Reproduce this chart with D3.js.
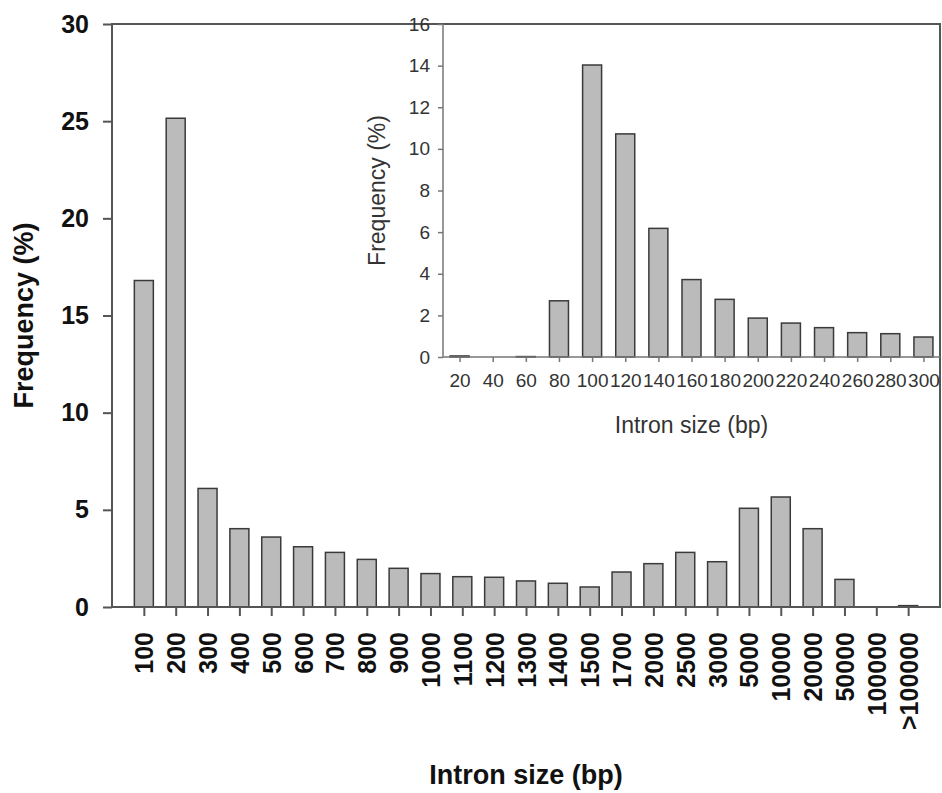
<!DOCTYPE html>
<html>
<head>
<meta charset="utf-8">
<script src="https://cdn.jsdelivr.net/npm/d3@7/dist/d3.min.js"></script>
<style>
  body { margin: 0; background: #fff; }
  svg { display: block; font-family: Arial, "Liberation Sans", sans-serif; }
  .bar { fill: #bbbbbb; stroke: #3a3a3a; stroke-width: 1.5; }
  .main-axis text { font-size: 25px; font-weight: bold; fill: #111; }
  .main-axis line { stroke: #555; stroke-width: 2; }
  .inset-axis text { font-size: 19px; fill: #333; }
  .inset-axis line { stroke: #777; stroke-width: 1.5; }
</style>
</head>
<body>
<svg id="chart" width="942" height="793"></svg>
<script>
// main histogram
var mainCategories = ["100", "200", "300", "400", "500", "600", "700", "800", "900",
    "1000", "1100", "1200", "1300", "1400", "1500", "1700", "2000", "2500", "3000",
    "5000", "10000", "20000", "50000", "100000", ">100000"];
var mainValues = [16.8, 25.15, 6.1, 4.03, 3.6, 3.1, 2.81, 2.45, 1.99,
    1.72, 1.56, 1.53, 1.34, 1.22, 1.03, 1.8, 2.23, 2.81, 2.33,
    5.08, 5.66, 4.03, 1.42, 0, 0.07];
var mainYTicks = [0, 5, 10, 15, 20, 25, 30];

// inset histogram (short introns)
var insetCategories = ["20", "40", "60", "80", "100", "120", "140", "160", "180",
    "200", "220", "240", "260", "280", "300"];
var insetValues = [0.05, 0, 0.02, 2.7, 14.03, 10.72, 6.18, 3.72, 2.77,
    1.87, 1.63, 1.41, 1.17, 1.12, 0.96];
var insetYTicks = [0, 2, 4, 6, 8, 10, 12, 14, 16];

var barWidth = 19;
var svg = d3.select("#chart");

var main = {left: 112, right: 940, top: 24, bottom: 607};
var inset = {left: 443, right: 940, top: 24, bottom: 357};

var xMain = d3.scalePoint()
    .domain(mainCategories)
    .range([main.left, main.right])
    .padding(1);
var yMain = d3.scaleLinear()
    .domain([0, 30])
    .range([main.bottom, main.top]);

var xInset = d3.scalePoint()
    .domain(insetCategories)
    .range([inset.left, inset.right])
    .padding(0.5);
var yInset = d3.scaleLinear()
    .domain([0, 16])
    .range([inset.bottom, inset.top]);

// --- main chart ---
svg.append("g")
    .selectAll("rect")
    .data(mainCategories)
    .enter().append("rect")
        .attr("class", "bar")
        .attr("x", function(d) { return xMain(d) - barWidth / 2; })
        .attr("width", barWidth)
        .attr("y", function(d, i) { return yMain(mainValues[i]); })
        .attr("height", function(d, i) { return yMain(0) - yMain(mainValues[i]); });

svg.append("g")
    .attr("class", "main-axis")
    .attr("transform", `translate(${main.left}, 0)`)
    .call(d3.axisLeft(yMain).tickValues(mainYTicks).tickSize(9).tickSizeOuter(0).tickPadding(14))
    .call(function(g) { g.select(".domain").remove(); });

svg.append("g")
    .attr("class", "main-axis")
    .attr("transform", `translate(0, ${main.bottom})`)
    .call(d3.axisBottom(xMain).tickSize(9).tickSizeOuter(0))
    .call(function(g) {
      g.select(".domain").remove();
      g.selectAll("text")
          .attr("transform", "rotate(-90)")
          .attr("x", -25)
          .attr("y", 0)
          .attr("dy", "0.36em")
          .style("text-anchor", "end");
    });

svg.append("rect")
    .attr("x", main.left)
    .attr("y", main.top)
    .attr("width", main.right - main.left)
    .attr("height", main.bottom - main.top)
    .attr("fill", "none")
    .attr("stroke", "#555")
    .attr("stroke-width", 2);

svg.append("text")
    .attr("transform", `translate(33, ${(main.top + main.bottom) / 2}) rotate(-90)`)
    .style("text-anchor", "middle")
    .style("font-size", "27px")
    .style("font-weight", "bold")
    .attr("fill", "#111")
    .text("Frequency (%)");

svg.append("text")
    .attr("x", (main.left + main.right) / 2)
    .attr("y", 784)
    .style("text-anchor", "middle")
    .style("font-size", "27px")
    .style("font-weight", "bold")
    .attr("fill", "#111")
    .text("Intron size (bp)");

// --- inset ---
svg.append("rect")
    .attr("x", inset.left)
    .attr("y", inset.top + 1)
    .attr("width", inset.right - inset.left - 1)
    .attr("height", inset.bottom - inset.top - 1)
    .attr("fill", "#fff");

svg.append("g")
    .selectAll("rect")
    .data(insetCategories)
    .enter().append("rect")
        .attr("class", "bar")
        .attr("x", function(d) { return xInset(d) - barWidth / 2; })
        .attr("width", barWidth)
        .attr("y", function(d, i) { return yInset(insetValues[i]); })
        .attr("height", function(d, i) { return yInset(0) - yInset(insetValues[i]); });

svg.append("g")
    .attr("class", "inset-axis")
    .attr("transform", `translate(${inset.left}, 0)`)
    .call(d3.axisLeft(yInset).tickValues(insetYTicks).tickSize(5).tickSizeOuter(0).tickPadding(8))
    .call(function(g) { g.select(".domain").remove(); });

svg.append("g")
    .attr("class", "inset-axis")
    .attr("transform", `translate(0, ${inset.bottom})`)
    .call(d3.axisBottom(xInset).tickSize(5).tickSizeOuter(0).tickPadding(12))
    .call(function(g) { g.select(".domain").remove(); });

svg.append("path")
    .attr("d", `M ${inset.left} ${inset.top} L ${inset.left} ${inset.bottom} L ${inset.right} ${inset.bottom}`)
    .attr("fill", "none")
    .attr("stroke", "#777")
    .attr("stroke-width", 1.5);

svg.append("text")
    .attr("transform", `translate(385, ${(inset.top + inset.bottom) / 2}) rotate(-90)`)
    .style("text-anchor", "middle")
    .style("font-size", "23px")
    .attr("fill", "#333")
    .text("Frequency (%)");

svg.append("text")
    .attr("x", (inset.left + inset.right) / 2)
    .attr("y", 433)
    .style("text-anchor", "middle")
    .style("font-size", "23px")
    .attr("fill", "#333")
    .text("Intron size (bp)");
</script>
</body>
</html>
